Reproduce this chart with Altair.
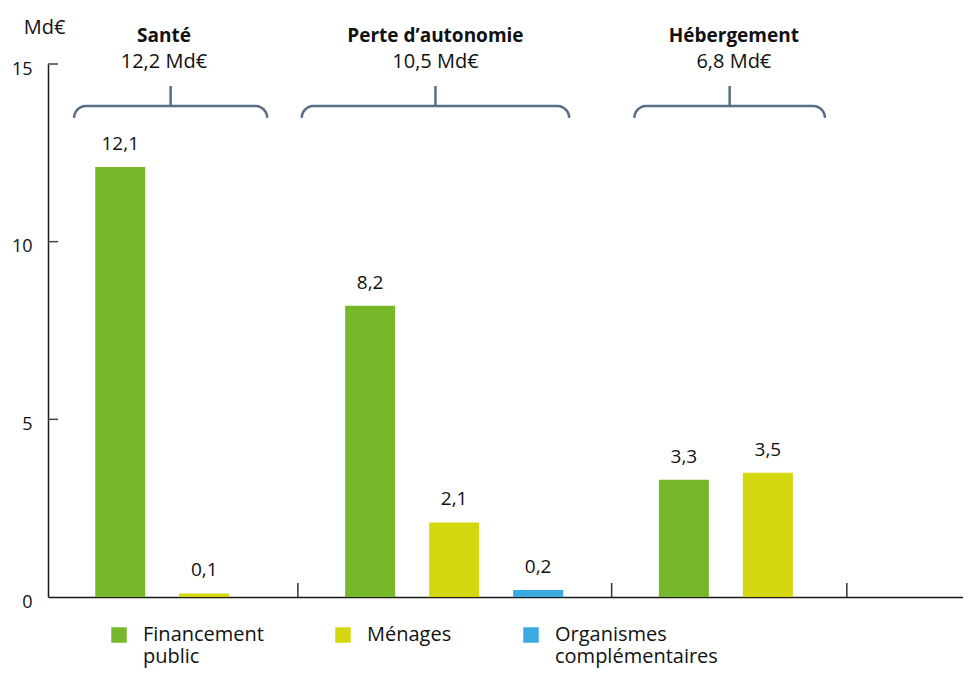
import math
import altair as alt
import pandas as pd

# ---------------- data ----------------
groups = ["Santé", "Perte d’autonomie", "Hébergement"]
group_totals = [12.2, 10.5, 6.8]
series = ["Financement public", "Ménages", "Organismes complémentaires"]
colors = ["#76B82A", "#D4D70F", "#3AAAE1"]

sante_values = [12.1, 0.1]            # Financement public, Ménages
autonomie_values = [8.2, 2.1, 0.2]    # Financement public, Ménages, Organismes compl.
hebergement_values = [3.3, 3.5]       # Financement public, Ménages
y_ticks = [0, 5, 10, 15]

# ---------------- layout (in x-scale units, 1 unit = one bar slot) ----------------
PLOT_W, PLOT_H = 915, 533
SLOT_PX = 84.0
X_MAX = PLOT_W / SLOT_PX
Y_MAX = 15
PX_Y = PLOT_H / Y_MAX
GROUP_BOUNDS = [0.0, 2.975, 6.71, 9.51]
BAR_OFFSET = 0.86
BRACE_SPANS = [(0.31, 2.61), (3.02, 6.205), (6.98, 9.25)]
HEAD_SHIFT = [-0.08, 0.0, 0.05]
BRACE_Y = 13.82
STEM_TOP = 14.38
HEAD_Y = 15.62
TOTAL_Y = 14.89


def fmt(v):
    return f"{v:.1f}".replace(".", ",")


group_values = [sante_values, autonomie_values, hebergement_values]
rows = []
for gi, (g, vals) in enumerate(zip(groups, group_values)):
    for k, v in enumerate(vals):
        rows.append({"group": g, "series": series[k], "value": v,
                     "x": GROUP_BOUNDS[gi] + BAR_OFFSET + k, "label": fmt(v)})
bars_df = pd.DataFrame(rows)

sep_df = pd.DataFrame({"x": GROUP_BOUNDS[1:], "y": 0.0, "y2": 14 / PX_Y})
tick_df = pd.DataFrame({"y": y_ticks[1:], "x": 0.0, "x2": 10 / SLOT_PX})

rx = 12 / SLOT_PX
ry = 12 / PX_Y
brace_rows = []
head_rows = []
for gi, (L, R) in enumerate(BRACE_SPANS):
    i = 0
    for k in range(7):
        th = math.pi - k * (math.pi / 2) / 6
        brace_rows.append({"g": gi, "i": i, "x": L + rx + rx * math.cos(th),
                           "y": BRACE_Y - ry + ry * math.sin(th)})
        i += 1
    for k in range(7):
        th = math.pi / 2 - k * (math.pi / 2) / 6
        brace_rows.append({"g": gi, "i": i, "x": R - rx + rx * math.cos(th),
                           "y": BRACE_Y - ry + ry * math.sin(th)})
        i += 1
    c = (L + R) / 2
    head_rows.append({"x": c, "xh": c + HEAD_SHIFT[gi], "name": groups[gi],
                      "total": fmt(group_totals[gi]) + " Md€",
                      "y_stem": BRACE_Y, "y_stem2": STEM_TOP,
                      "y_head": HEAD_Y, "y_total": TOTAL_Y})
brace_df = pd.DataFrame(brace_rows)
head_df = pd.DataFrame(head_rows)

FONT = "Open Sans"
xscale = alt.Scale(domain=[0, X_MAX], nice=False, zero=False, padding=0)
yscale = alt.Scale(domain=[0, Y_MAX], nice=False)

label_expr = ("length(split(datum.label, ' ')) > 1 ? split(datum.label, ' ') "
              ": [datum.label, ' ']")

bars = alt.Chart(bars_df).mark_bar(size=50).encode(
    x=alt.X("x:Q", scale=xscale,
            axis=alt.Axis(title=None, labels=False, ticks=False, grid=False,
                          domain=True, domainColor="#1a1a1a", domainWidth=1.5)),
    y=alt.Y("value:Q", scale=yscale,
            axis=alt.Axis(title="Md€", values=y_ticks, ticks=False, grid=False,
                          domain=True, domainColor="#1a1a1a", domainWidth=1.5,
                          labelFontSize=18, labelPadding=16, labelOffset=5,
                          labelColor="#111", titleAngle=0, titleAlign="center",
                          titleBaseline="alphabetic", titleX=-4, titleY=-31,
                          titleFontSize=20, titleFontWeight="normal",
                          titleColor="#111")),
    color=alt.Color("series:N", scale=alt.Scale(domain=series, range=colors),
                    legend=alt.Legend(title=None, orient="none", legendX=61, legendY=561,
                                      columns=3, columnPadding=69, symbolType="square",
                                      symbolSize=240, symbolStrokeWidth=0,
                                      labelFontSize=20, labelOffset=14, labelLimit=300,
                                      labelColor="#111", padding=0,
                                      labelExpr=label_expr)),
)

labels = alt.Chart(bars_df).mark_text(fontSize=19, dy=-17, baseline="alphabetic",
                                      color="#111").encode(
    x="x:Q", y="value:Q", text="label:N")

seps = alt.Chart(sep_df).mark_rule(color="#333", strokeWidth=1.5).encode(
    x="x:Q", y="y:Q", y2="y2")

yticks = alt.Chart(tick_df).mark_rule(color="#444", strokeWidth=1.5).encode(
    x="x:Q", x2="x2", y="y:Q")

braces = alt.Chart(brace_df).mark_line(color="#5B6E87", strokeWidth=2.5).encode(
    x="x:Q", y="y:Q", detail="g:N", order="i:Q")

stems = alt.Chart(head_df).mark_rule(color="#5B6E87", strokeWidth=2.5).encode(
    x="x:Q", y="y_stem:Q", y2="y_stem2")

heads = alt.Chart(head_df).mark_text(fontSize=19, fontWeight="bold", baseline="alphabetic",
                                     color="#111").encode(
    x="xh:Q", y="y_head:Q", text="name:N")

totals = alt.Chart(head_df).mark_text(fontSize=20, baseline="alphabetic",
                                      color="#111").encode(
    x="xh:Q", y="y_total:Q", text="total:N")

chart = alt.layer(bars, labels, seps, yticks, braces, stems, heads, totals).properties(
    width=PLOT_W, height=PLOT_H,
    autosize=alt.AutoSizeParams(type="none"),
    padding={"left": 40, "top": 56, "right": 0, "bottom": 72},
).configure(font=FONT).configure_view(stroke=None)

chart.save("out.html", embed_options={"renderer": "svg", "actions": False})
